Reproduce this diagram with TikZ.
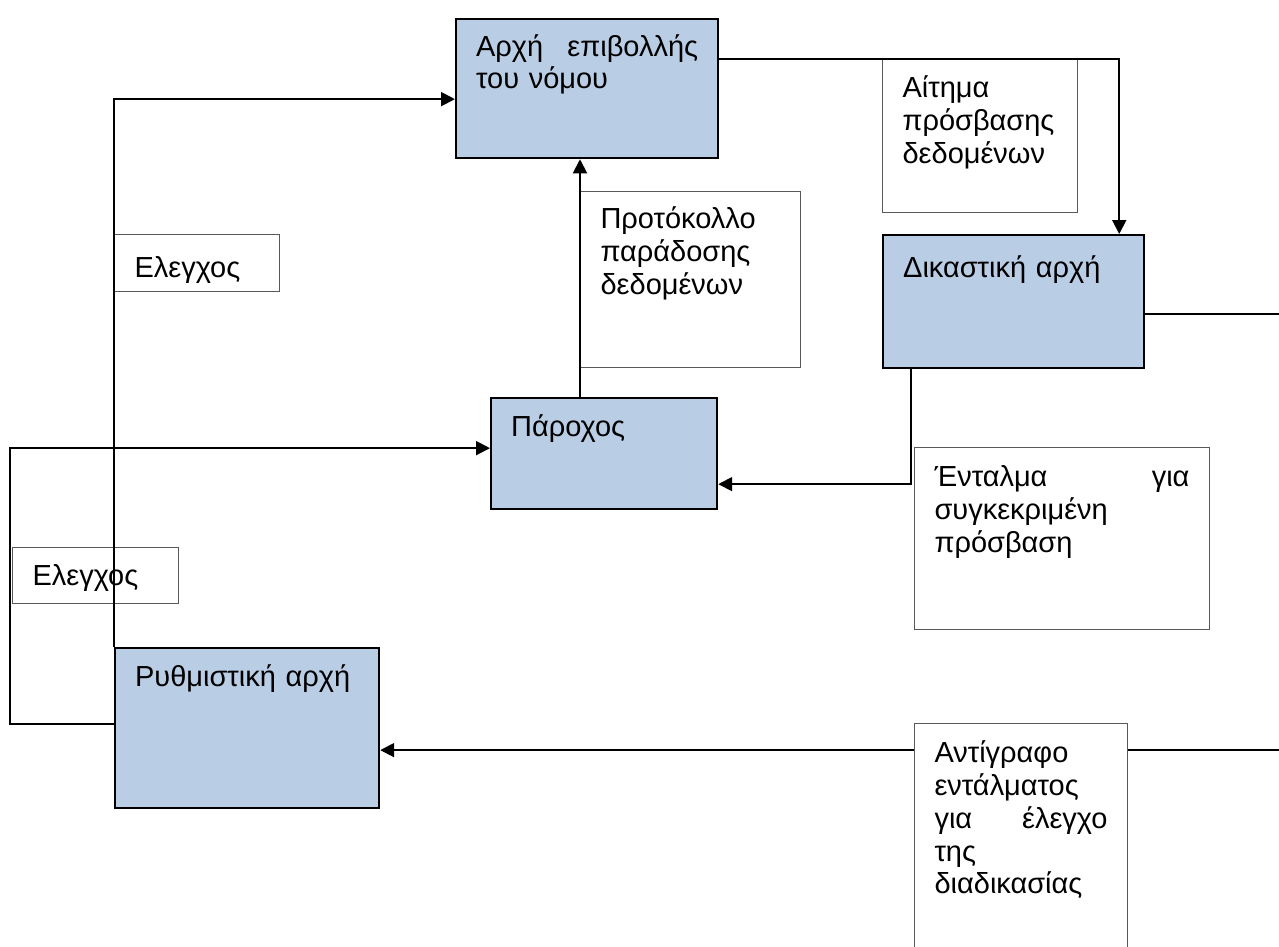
\documentclass[tikz,border=0pt]{standalone}
\usepackage{fontspec}
\setmainfont{Liberation Sans}
\usepackage{xcolor}
\usetikzlibrary{positioning, arrows.meta, calc}
\definecolor{boxblue}{RGB}{185,205,229}

\begin{document}
\begin{tikzpicture}[
    x=0.02cm, y=-0.02cm,
    actor/.style={rectangle, draw=black, fill=boxblue, line width=1.3pt, anchor=north west, align=left, inner xsep=0.4cm, inner ysep=0pt, text height=0.76cm, font=\fontsize{16.5}{18.7}\selectfont},
    note/.style={rectangle, draw=black!65, fill=white, line width=0.6pt, anchor=north west, align=left, inner xsep=0.4cm, inner ysep=0pt, text height=0.76cm, font=\fontsize{16.5}{18.7}\selectfont},
    arrow/.style={-{Triangle[length=0.28cm, width=0.28cm]}, line width=1.1pt, black},
]

% === FRAME ===
\useasboundingbox (0,0) rectangle (1279,947);
\clip (0,0) rectangle (1279,947);
\coordinate (edge) at (1300,0);

% === AUTHORITIES ===
\node[actor, text width=4.44cm, text height=0.74cm, text depth=2.04cm] (law) at (455,18) {Αρχή\hfill επιβολλής\\του νόμου};
\node[actor, text width=4.42cm, text height=0.84cm, text depth=1.82cm] (court) at (882,234) {Δικαστική αρχή};
\node[actor, text width=3.72cm, text depth=1.46cm] (provider) at (490,397) {Πάροχος};
\node[actor, text width=4.48cm, text depth=2.44cm] (regul) at (114,647) {Ρυθμιστική αρχή};

% === LABELS ===
\node[note, text width=2.5cm, text height=0.86cm, text depth=0.28cm] (ctla) at (114,234) {Ελεγχος};
\node[note, text width=2.52cm, text depth=0.36cm] (ctlb) at (12,547) {Ελεγχος};
\node[note, text width=3.6cm, text height=0.74cm, text depth=2.78cm] (proto) at (580,191) {Προτόκολλο\\παράδοσης\\δεδομένων};
\node[note, text width=3.1cm, text depth=2.30cm] (request) at (882,59) {Αίτημα\\πρόσβασης\\δεδομένων};
\node[note, text width=5.1cm, text height=0.78cm, text depth=2.86cm] (warrant) at (914,447) {Ένταλμα\hfill για\\συγκεκριμένη\\πρόσβαση};

% === ARROWS ===
% Regulator to the others
\draw[arrow] (regul.north west) |- ([yshift=-0.21cm]law.west);
\draw[arrow] ([yshift=0.08cm]regul.west) -- ++(-104,0) |- ([yshift=0.11cm]provider.west);

% Provider to law enforcement
\draw[arrow] (provider.north -| proto.west) -- (law.south -| proto.west);

% Law enforcement to court
\draw[arrow] (request.north -| law.east) -| ([xshift=-0.52cm]court.north east);

% Court to provider and regulator
\draw[arrow] ([xshift=0.58cm]court.south west) |- ([yshift=-0.61cm]provider.east);
\draw[arrow] ([yshift=-0.25cm]court.east) -- ([yshift=-0.25cm]court.east -| edge) |- ([yshift=-0.44cm]regul.east);

% Copy label on the return line
\node[note, text width=3.46cm, text height=0.78cm, text depth=4.02cm] (copy) at (914,723) {Αντίγραφο\\εντάλματος\\για\hfill έλεγχο\\της\\διαδικασίας};

\end{tikzpicture}
\end{document}
